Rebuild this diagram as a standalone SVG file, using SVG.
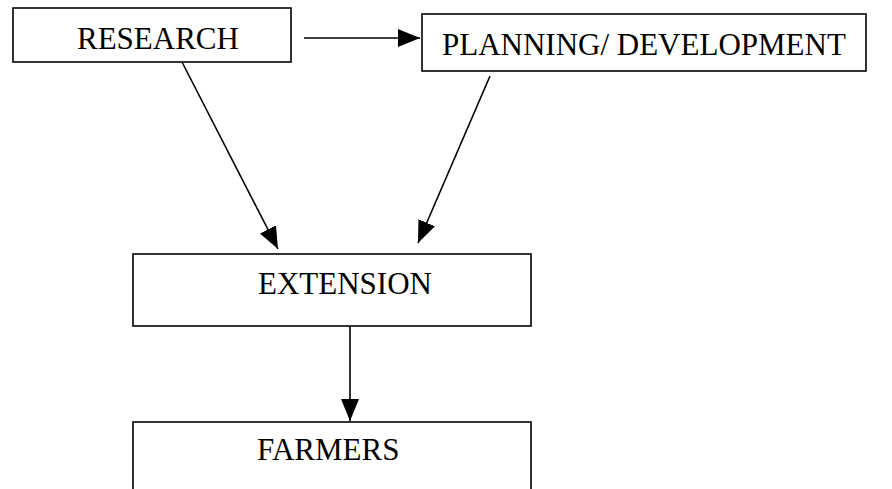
<svg xmlns="http://www.w3.org/2000/svg" width="892" height="489" viewBox="0 0 892 489">
  <defs>
    <style>
      .box { fill: #ffffff; stroke: #000000; stroke-width: 1.6; }
      .lbl { font-family: "Liberation Serif", "Times New Roman", serif; font-size: 31px; fill: #000000; }
      .edge { stroke: #000000; stroke-width: 1.6; fill: none; marker-end: url(#arrow); }
    </style>
    <marker id="arrow" markerUnits="userSpaceOnUse" markerWidth="22" markerHeight="20" viewBox="0 0 22 20" refX="22" refY="10" orient="auto">
      <path d="M0,1 L22,10 L0,19 Z" fill="#000000"/>
    </marker>
  </defs>
  <rect width="892" height="489" fill="#ffffff"/>
  <g id="research">
    <rect class="box" x="13" y="8" width="278" height="54"/>
    <text class="lbl" x="77" y="49">RESEARCH</text>
  </g>
  <g id="planning">
    <rect class="box" x="422" y="14" width="444" height="57"/>
    <text class="lbl" x="442" y="55">PLANNING/ DEVELOPMENT</text>
  </g>
  <g id="extension">
    <rect class="box" x="133" y="254" width="398" height="72"/>
    <text class="lbl" x="258" y="294">EXTENSION</text>
  </g>
  <g id="farmers">
    <rect class="box" x="133" y="422" width="398" height="80"/>
    <text class="lbl" x="257" y="460">FARMERS</text>
  </g>
  <g id="connectors">
    <line class="edge" x1="304" y1="38" x2="420" y2="38"/>
    <line class="edge" x1="182" y1="62" x2="278" y2="249"/>
    <line class="edge" x1="490" y1="76" x2="418" y2="243"/>
    <line class="edge" x1="350" y1="326" x2="350" y2="421"/>
  </g>
</svg>
